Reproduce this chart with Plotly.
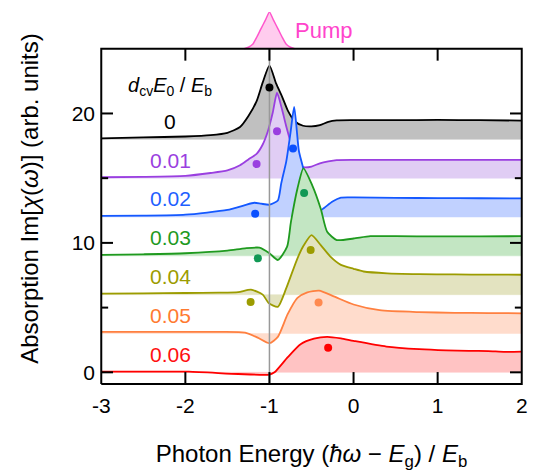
import plotly.graph_objects as go

# ---------------- data ----------------
labels = ["0", "0.01", "0.02", "0.03", "0.04", "0.05", "0.06"]
offsets = [18, 15, 12, 9, 6, 3, 0]

x_ticks = [-3, -2, -1, 0, 1, 2]
x_ticktext = ["-3", "-2", "-1", "0", "1", "2"]
y_ticks = [0, 10, 20]
y_minor_ticks = [5, 15]

x_black = [-3.0, -2.5, -2.0, -1.7, -1.5, -1.35, -1.25, -1.15, -1.08, -1.0, -0.92, -0.85, -0.78, -0.7, -0.6, -0.5, -0.4, -0.3, -0.2, 0.0, 0.5, 1.0, 1.5, 2.0]
y_black = [18.08, 18.15, 18.22, 18.32, 18.5, 18.95, 19.8, 21.0, 22.4, 23.7, 22.3, 21.3, 20.2, 19.4, 19.05, 19.0, 19.1, 19.35, 19.46, 19.48, 19.48, 19.5, 19.48, 19.45]

x_purple = [-3.0, -2.5, -2.0, -1.7, -1.5, -1.35, -1.25, -1.15, -1.08, -1.02, -0.96, -0.91, -0.85, -0.8, -0.72, -0.65, -0.58, -0.5, -0.4, -0.3, -0.2, 0.0, 0.5, 1.0, 1.5, 2.0]
y_purple = [15.07, 15.1, 15.18, 15.4, 15.6, 16.0, 16.45, 16.9, 17.6, 18.6, 20.1, 21.6, 20.3, 19.0, 17.2, 16.0, 15.84, 15.9, 16.15, 16.3, 16.4, 16.42, 16.42, 16.42, 16.42, 16.42]

x_blue = [-3.0, -2.5, -2.0, -1.5, -1.3, -1.18, -1.1, -1.0, -0.9, -0.86, -0.8, -0.75, -0.706, -0.65, -0.6, -0.55, -0.48, -0.42, -0.35, -0.25, -0.15, 0.0, 0.5, 1.0, 1.5, 2.0]
y_blue = [12.08, 12.1, 12.18, 12.55, 12.9, 13.1, 13.03, 12.95, 13.28, 14.6, 16.3, 18.5, 20.5, 17.1, 15.8, 14.0, 12.8, 12.4, 12.7, 13.2, 13.5, 13.52, 13.48, 13.46, 13.45, 13.44]

x_green = [-3.0, -2.5, -2.0, -1.5, -1.29, -1.12, -1.0, -0.9, -0.79, -0.745, -0.667, -0.596, -0.49, -0.39, -0.314, -0.2, 0.0, 0.2, 0.5, 1.0, 1.5, 2.0]
y_green = [9.07, 9.12, 9.2, 9.4, 9.58, 9.63, 9.2, 8.68, 9.71, 11.6, 14.2, 15.76, 14.43, 12.64, 10.86, 10.22, 10.34, 10.52, 10.52, 10.5, 10.5, 10.52]

x_olive = [-3.0, -2.5, -2.0, -1.6, -1.37, -1.22, -1.08, -1.01, -0.9, -0.8, -0.667, -0.59, -0.5, -0.39, -0.275, -0.15, 0.0, 0.12, 0.4, 0.78, 1.2, 1.6, 2.0]
y_olive = [6.08, 6.1, 6.13, 6.15, 6.2, 6.39, 6.0, 5.36, 5.06, 6.5, 8.81, 9.83, 10.6, 9.83, 8.94, 8.3, 8.0, 7.79, 7.65, 7.59, 7.56, 7.55, 7.54]

x_orange = [-3.0, -2.5, -2.0, -1.57, -1.29, -1.14, -1.0, -0.9, -0.785, -0.667, -0.55, -0.41, -0.235, 0.0, 0.31, 0.78, 1.2, 1.6, 2.0]
y_orange = [3.12, 3.12, 3.12, 3.12, 3.07, 2.68, 2.25, 2.74, 4.47, 5.75, 6.18, 6.31, 5.87, 5.24, 4.8, 4.65, 4.6, 4.58, 4.56]

x_red = [-3.0, -2.5, -1.96, -1.37, -1.0, -0.94, -0.785, -0.63, -0.47, -0.314, -0.15, 0.0, 0.39, 0.78, 1.1, 1.37, 1.6, 1.8, 2.0]
y_red = [0.05, 0.05, 0.05, -0.13, -0.18, 0.0, 1.15, 2.17, 2.6, 2.74, 2.62, 2.43, 1.99, 1.79, 1.7, 1.66, 1.64, 1.58, 1.6]

# peak markers (x, y) per series
dots_x = [[-1.0], [-1.153, -0.91], [-1.17, -0.72], [-1.138, -0.588], [-1.224, -0.51], [-0.416], [-0.302]]
dots_y = [[22.0], [16.09, 18.62], [12.26, 17.3], [8.81, 13.85], [5.44, 9.45], [5.39], [1.89]]

# pump spectrum (relative intensity)
pump_x = [-1.30, -1.25, -1.20, -1.15, -1.10, -1.05, -1.00, -0.95, -0.90, -0.85, -0.80, -0.75, -0.70]
pump_y = [0.0, 0.04, 0.12, 0.32, 0.55, 0.77, 1.0, 0.77, 0.55, 0.32, 0.12, 0.04, 0.0]

xs = [x_black, x_purple, x_blue, x_green, x_olive, x_orange, x_red]
ys = [y_black, y_purple, y_blue, y_green, y_olive, y_orange, y_red]

line_colors = ["#000000", "#9a3fe0", "#1458ff", "#1f9a1f", "#9c9c00", "#ff8040", "#ff0000"]
fill_colors = ["#c0c0c0", "#e0cdf4", "#c1d1ff", "#c3e6c3", "#e3e3c0", "#ffdccc", "#ffc3c3"]
dot_colors = ["#000000", "#9a3fe0", "#0a50ff", "#119955", "#9c9c00", "#ff8a50", "#ff0000"]
label_colors = ["#000000", "#9a3fe0", "#1f5fff", "#1f9a1f", "#9c9c00", "#ff7a30", "#ff1010"]

FONT = "Arial, Liberation Sans, sans-serif"
SMOOTH = 0.6

# frame / axis geometry
X_MIN, X_MAX = -3.0, 2.0
Y_BOTTOM = -0.9
FRAME_TOP = 25.0          # top edge of the data frame
PUMP_SCALE = 2.84         # height of the pump inset above the frame (data units)
Y_TOP = FRAME_TOP + PUMP_SCALE
PAD_X = 0.015             # ~1 px so the frame line is not clipped
PAD_Y = 0.08
TICK_X_MAJOR, TICK_Y_MAJOR = 0.14, 0.92   # 12 px tick length in data units
TICK_X_MINOR = 0.082                       # 7 px

fig = go.Figure()

# each series: fill, then its line (later series drawn over earlier ones)
for x, y, off, fc, lc in zip(xs, ys, offsets, fill_colors, line_colors):
    fig.add_trace(go.Scatter(x=[x[0], x[-1]], y=[off, off], mode="lines",
                             line=dict(width=0.5, color=fc), showlegend=False, hoverinfo="skip"))
    fig.add_trace(go.Scatter(x=x, y=y, mode="lines",
                             line=dict(width=0.5, color=fc, shape="spline", smoothing=SMOOTH),
                             fill="tonexty", fillcolor=fc, showlegend=False, hoverinfo="skip"))
    fig.add_trace(go.Scatter(x=x, y=y, mode="lines",
                             line=dict(color=lc, width=1.8, shape="spline", smoothing=SMOOTH),
                             showlegend=False))

# vertical reference line at pump energy
fig.add_trace(go.Scatter(x=[-1.0, -1.0], y=[Y_BOTTOM, FRAME_TOP], mode="lines",
                         line=dict(color="#999999", width=1.5), showlegend=False, hoverinfo="skip"))

# dots
for dx, dy, dc in zip(dots_x, dots_y, dot_colors):
    fig.add_trace(go.Scatter(x=dx, y=dy, mode="markers", marker=dict(color=dc, size=8),
                             showlegend=False))

# pump spectrum above the frame
fig.add_trace(go.Scatter(x=[pump_x[0], pump_x[-1]], y=[FRAME_TOP, FRAME_TOP], mode="lines",
                         line=dict(width=0.5, color="#ffccee"), showlegend=False, hoverinfo="skip"))
fig.add_trace(go.Scatter(x=pump_x, y=[FRAME_TOP + PUMP_SCALE * v for v in pump_y], mode="lines",
                         line=dict(color="#ff55cc", width=1.5, shape="spline", smoothing=0.5),
                         fill="tonexty", fillcolor="#ffccee", showlegend=False))

# frame box (drawn through the data scales)
fig.add_trace(go.Scatter(x=[X_MIN, X_MAX, X_MAX, X_MIN, X_MIN],
                         y=[Y_BOTTOM, Y_BOTTOM, FRAME_TOP, FRAME_TOP, Y_BOTTOM],
                         mode="lines", line=dict(color="black", width=2),
                         showlegend=False, hoverinfo="skip"))

# inward tick marks on all four sides
tx, ty = [], []
for v in x_ticks[1:-1]:
    tx += [v, v, None, v, v, None]
    ty += [Y_BOTTOM, Y_BOTTOM + TICK_Y_MAJOR, None, FRAME_TOP, FRAME_TOP - TICK_Y_MAJOR, None]
for v in y_ticks:
    tx += [X_MIN, X_MIN + TICK_X_MAJOR, None, X_MAX, X_MAX - TICK_X_MAJOR, None]
    ty += [v, v, None, v, v, None]
for v in y_minor_ticks:
    tx += [X_MIN, X_MIN + TICK_X_MINOR, None, X_MAX, X_MAX - TICK_X_MINOR, None]
    ty += [v, v, None, v, v, None]
fig.add_trace(go.Scatter(x=tx, y=ty, mode="lines", line=dict(color="black", width=2),
                         showlegend=False, hoverinfo="skip", connectgaps=False))

# labels
for lab, off, col in zip(labels, offsets, label_colors):
    fig.add_annotation(x=-2.18, y=off + 1.4, text=lab, showarrow=False,
                       font=dict(size=21, color=col, family=FONT))
fig.add_annotation(x=-2.18, y=22.07, showarrow=False,
                   text="<i>d</i><sub>cv</sub><i>E</i><sub>0</sub> / <i>E</i><sub>b</sub>",
                   font=dict(size=20, color="black", family=FONT))
fig.add_annotation(x=-0.72, y=FRAME_TOP + 0.5 * PUMP_SCALE, text="Pump", showarrow=False,
                   xanchor="left", font=dict(size=22, color="#ff44cc", family=FONT))

fig.update_layout(
    width=535, height=471,
    margin=dict(l=100, r=7, t=12, b=83),
    plot_bgcolor="white", paper_bgcolor="white",
    font=dict(family=FONT, size=20, color="black"),
    xaxis=dict(range=[X_MIN - PAD_X, X_MAX + PAD_X], tickmode="array", tickvals=x_ticks,
               ticktext=x_ticktext, ticks="", showline=False, showgrid=False,
               zeroline=False, tickfont=dict(size=21), ticklabelstandoff=6,
               title=dict(text="Photon Energy (<i>ħω</i> − <i>E</i><sub>g</sub>) / <i>E</i><sub>b</sub>",
                          font=dict(size=24), standoff=30)),
    yaxis=dict(range=[Y_BOTTOM - PAD_Y, Y_TOP], tickmode="array", tickvals=y_ticks,
               ticks="", showline=False, showgrid=False, zeroline=False,
               tickfont=dict(size=21), ticklabelstandoff=4,
               title=dict(text="Absorption Im[<i>χ</i>(<i>ω</i>)] (arb. units)",
                          font=dict(size=24), standoff=26)),
)

fig.write_html("out.html")
